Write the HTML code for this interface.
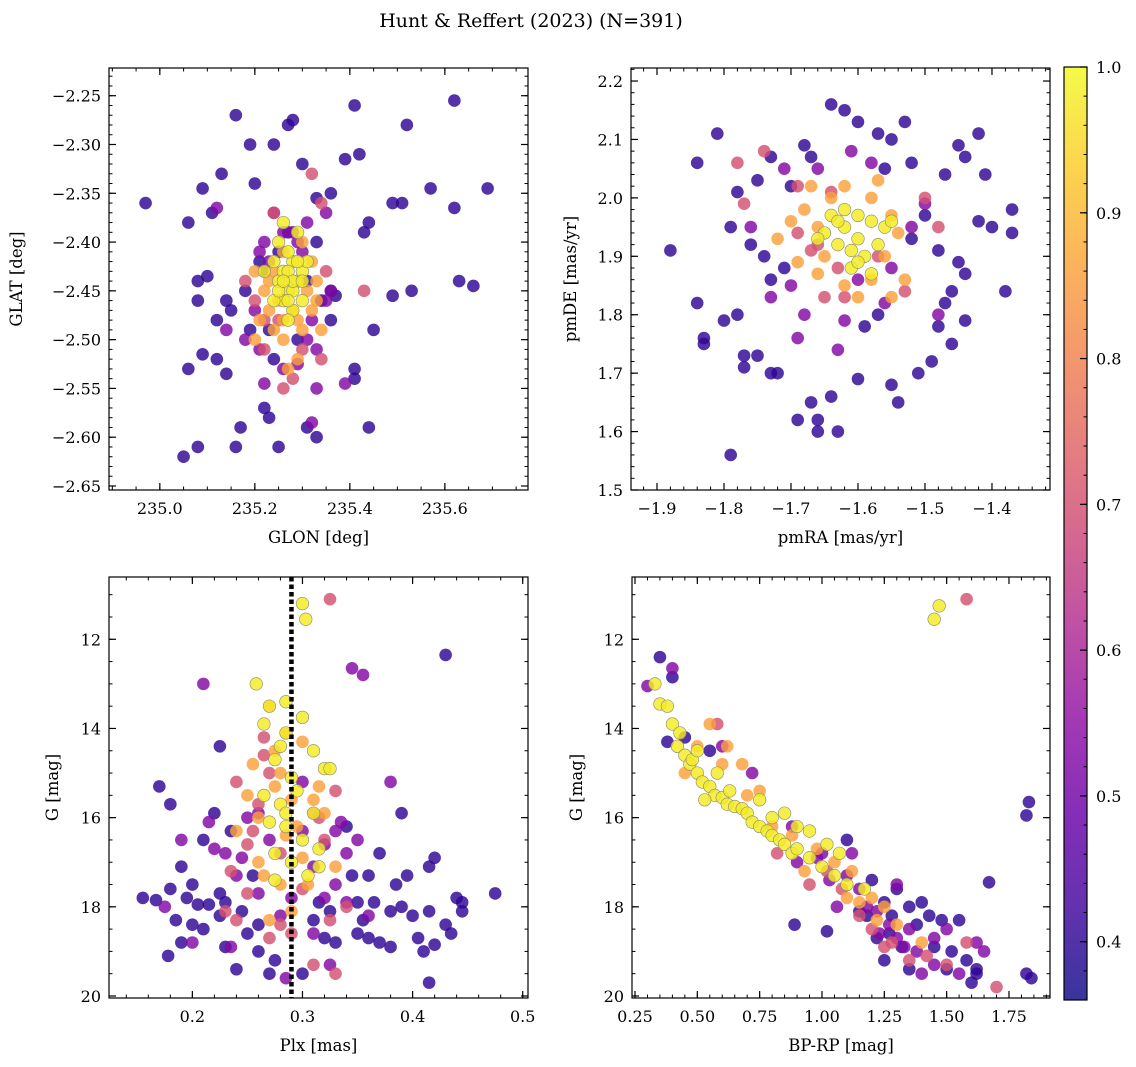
<!DOCTYPE html>
<html><head><meta charset="utf-8"><style>
html,body{margin:0;padding:0;background:#fff;}
svg{display:block;font-family:"DejaVu Serif","Liberation Serif",serif;}
</style></head><body>
<svg id="fig" width="1136" height="1067" viewBox="0 0 1136 1067" xmlns="http://www.w3.org/2000/svg">
<defs><linearGradient id="cbg" x1="0" y1="1" x2="0" y2="0"></linearGradient></defs>
<text x="531" y="27" font-size="19" text-anchor="middle">Hunt &amp; Reffert (2023) (N=391)</text>
</svg>
<script>
// ---------- data ----------
const groupProb = [0.40, 0.53, 0.70, 0.86, 0.98];
// Top-left: GLON, GLAT
const tlDark = [[234.97,-2.36],[235.06,-2.38],[235.05,-2.62],[235.08,-2.61],[235.06,-2.53],[235.08,-2.46],[235.09,-2.345],[235.11,-2.37],[235.13,-2.33],[235.16,-2.27],[235.19,-2.30],[235.20,-2.34],[235.24,-2.30],[235.27,-2.28],[235.28,-2.275],[235.30,-2.32],[235.33,-2.355],[235.36,-2.35],[235.39,-2.315],[235.41,-2.26],[235.42,-2.31],[235.44,-2.38],[235.43,-2.39],[235.49,-2.36],[235.51,-2.36],[235.52,-2.28],[235.57,-2.345],[235.62,-2.255],[235.62,-2.365],[235.69,-2.345],[235.63,-2.44],[235.66,-2.445],[235.53,-2.45],[235.49,-2.455],[235.45,-2.49],[235.44,-2.59],[235.41,-2.53],[235.41,-2.54],[235.37,-2.455],[235.36,-2.45],[235.33,-2.6],[235.31,-2.59],[235.25,-2.61],[235.22,-2.57],[235.23,-2.58],[235.17,-2.59],[235.16,-2.61],[235.12,-2.52],[235.09,-2.515],[235.14,-2.535],[235.10,-2.435],[235.08,-2.44],[235.12,-2.48],[235.14,-2.46],[235.15,-2.47],[235.18,-2.45],[235.19,-2.49],[235.21,-2.42],[235.33,-2.40],[235.36,-2.48],[235.24,-2.52],[235.29,-2.50],[235.22,-2.43],[235.25,-2.41],[235.31,-2.44],[235.34,-2.46],[235.27,-2.39],[235.23,-2.49]];
const tlPurple = [[235.14,-2.49],[235.23,-2.42],[235.21,-2.41],[235.22,-2.40],[235.28,-2.39],[235.31,-2.38],[235.30,-2.41],[235.36,-2.45],[235.33,-2.51],[235.31,-2.50],[235.29,-2.525],[235.26,-2.53],[235.22,-2.545],[235.21,-2.51],[235.18,-2.50],[235.24,-2.37],[235.29,-2.40],[235.35,-2.37],[235.12,-2.365],[235.33,-2.55],[235.39,-2.545],[235.32,-2.585],[235.20,-2.47],[235.35,-2.46],[235.26,-2.39],[235.32,-2.48]];
const tlPink = [[235.24,-2.37],[235.34,-2.36],[235.26,-2.55],[235.22,-2.51],[235.28,-2.54],[235.34,-2.52],[235.20,-2.46],[235.35,-2.43],[235.43,-2.45],[235.22,-2.48],[235.18,-2.44],[235.32,-2.33],[235.30,-2.51],[235.25,-2.48]];
const tlOrange = [[235.2,-2.43],[235.22,-2.45],[235.23,-2.47],[235.24,-2.49],[235.26,-2.5],[235.3,-2.49],[235.32,-2.47],[235.33,-2.44],[235.32,-2.42],[235.3,-2.4],[235.26,-2.41],[235.21,-2.48],[235.29,-2.52],[235.25,-2.46],[235.34,-2.49],[235.27,-2.53],[235.2,-2.5],[235.31,-2.45],[235.23,-2.44],[235.28,-2.47],[235.24,-2.43],[235.29,-2.48],[235.33,-2.46],[235.26,-2.48]];
const tlYellow = [[235.24,-2.42],[235.25,-2.44],[235.26,-2.43],[235.27,-2.45],[235.28,-2.42],[235.29,-2.44],[235.3,-2.43],[235.26,-2.46],[235.28,-2.47],[235.27,-2.41],[235.25,-2.4],[235.29,-2.39],[235.3,-2.46],[235.24,-2.46],[235.27,-2.48],[235.31,-2.42],[235.26,-2.38],[235.22,-2.43],[235.28,-2.45],[235.27,-2.43],[235.25,-2.45],[235.29,-2.42],[235.28,-2.44],[235.26,-2.44],[235.30,-2.44],[235.27,-2.46]];
// Top-right: pmRA, pmDE
const trDark = [[-1.88,1.91],[-1.84,1.82],[-1.83,1.76],[-1.83,1.75],[-1.79,1.56],[-1.81,2.11],[-1.84,2.06],[-1.78,1.8],[-1.77,1.73],[-1.77,1.71],[-1.76,1.92],[-1.75,1.73],[-1.73,1.7],[-1.72,1.7],[-1.69,1.62],[-1.67,1.65],[-1.66,1.6],[-1.66,1.62],[-1.63,1.6],[-1.64,1.66],[-1.60,1.69],[-1.55,1.68],[-1.54,1.65],[-1.57,1.8],[-1.59,1.78],[-1.51,1.7],[-1.49,1.72],[-1.46,1.75],[-1.44,1.79],[-1.48,1.78],[-1.38,1.84],[-1.37,1.98],[-1.37,1.94],[-1.40,1.95],[-1.42,1.96],[-1.41,2.04],[-1.42,2.11],[-1.44,2.07],[-1.45,2.09],[-1.47,2.04],[-1.53,2.13],[-1.55,2.1],[-1.57,2.11],[-1.6,2.13],[-1.62,2.15],[-1.64,2.16],[-1.67,2.07],[-1.70,2.02],[-1.73,2.07],[-1.75,2.03],[-1.78,2.01],[-1.79,1.95],[-1.80,1.79],[-1.73,1.86],[-1.74,1.9],[-1.71,1.88],[-1.47,1.82],[-1.45,1.89],[-1.44,1.87],[-1.46,1.84],[-1.48,1.91],[-1.52,1.93],[-1.52,2.06],[-1.56,2.05],[-1.50,1.97],[-1.68,2.09]];
const trPurple = [[-1.70,1.85],[-1.68,1.8],[-1.63,1.74],[-1.62,1.79],[-1.71,2.05],[-1.66,2.05],[-1.58,2.06],[-1.52,1.95],[-1.50,1.99],[-1.48,1.8],[-1.56,1.82],[-1.73,1.83],[-1.76,1.95],[-1.6,1.86],[-1.55,1.88],[-1.61,2.08],[-1.69,1.76]];
const trPink = [[-1.74,2.08],[-1.78,2.06],[-1.77,1.99],[-1.69,1.94],[-1.67,1.91],[-1.65,1.83],[-1.62,1.83],[-1.57,1.9],[-1.53,1.84],[-1.48,1.95],[-1.50,2.0],[-1.63,1.88],[-1.64,2.01],[-1.69,2.02],[-1.66,1.92]];
const trOrange = [[-1.7,1.96],[-1.68,1.98],[-1.66,1.95],[-1.64,2.0],[-1.62,2.02],[-1.58,2.0],[-1.55,1.97],[-1.54,1.94],[-1.56,1.9],[-1.58,1.86],[-1.62,1.85],[-1.66,1.87],[-1.69,1.89],[-1.72,1.93],[-1.6,1.83],[-1.53,1.86],[-1.67,2.02],[-1.57,2.03],[-1.65,1.9],[-1.55,1.83]];
const trYellow = [[-1.64,1.97],[-1.62,1.95],[-1.6,1.93],[-1.58,1.96],[-1.56,1.95],[-1.61,1.91],[-1.63,1.92],[-1.59,1.9],[-1.62,1.98],[-1.57,1.92],[-1.65,1.94],[-1.6,1.97],[-1.61,1.88],[-1.58,1.87],[-1.55,1.96],[-1.63,1.96],[-1.66,1.93],[-1.6,1.89]];
// Bottom-left: Plx, G
const blDark = [[0.155,17.8],[0.167,17.85],[0.17,15.3],[0.18,15.7],[0.178,19.1],[0.18,17.6],[0.185,18.3],[0.19,18.8],[0.19,17.1],[0.205,17.95],[0.21,18.5],[0.21,16.5],[0.22,15.9],[0.225,14.4],[0.225,17.7],[0.23,18.9],[0.235,16.3],[0.24,19.4],[0.245,18.1],[0.25,18.6],[0.255,17.3],[0.26,19.0],[0.27,19.5],[0.275,19.2],[0.3,19.5],[0.31,18.3],[0.315,17.9],[0.32,18.7],[0.33,18.8],[0.34,16.2],[0.345,17.3],[0.35,18.6],[0.36,18.7],[0.365,17.9],[0.37,18.8],[0.38,18.1],[0.385,17.5],[0.39,18.0],[0.39,15.9],[0.4,18.2],[0.405,18.7],[0.41,19.0],[0.415,18.1],[0.415,17.1],[0.42,16.9],[0.42,18.85],[0.43,18.4],[0.43,12.35],[0.435,18.6],[0.44,17.8],[0.445,18.1],[0.445,17.9],[0.475,17.7],[0.415,19.7],[0.37,16.8],[0.36,17.3],[0.35,17.9],[0.2,18.4],[0.195,17.8],[0.215,17.95],[0.23,17.9],[0.26,18.4],[0.395,17.3],[0.38,18.9],[0.225,18.2],[0.355,18.3],[0.325,18.1],[0.2,17.5]];
const blPurple = [[0.215,16.1],[0.22,16.7],[0.23,16.8],[0.24,17.3],[0.25,16.0],[0.26,15.9],[0.27,16.5],[0.29,17.8],[0.3,16.3],[0.31,17.1],[0.32,16.6],[0.33,17.5],[0.335,16.1],[0.345,12.65],[0.355,12.8],[0.2,18.8],[0.235,18.9],[0.31,18.6],[0.325,19.3],[0.3,15.2],[0.34,17.9],[0.285,19.6],[0.21,13.0],[0.19,16.5],[0.175,18.0],[0.38,15.2],[0.35,16.5],[0.36,18.2],[0.28,18.2],[0.26,17.7],[0.32,17.8],[0.34,16.8],[0.245,16.9],[0.33,16.3]];
const blPink = [[0.325,11.1],[0.24,15.2],[0.25,16.6],[0.265,14.6],[0.27,15.0],[0.26,15.7],[0.28,16.8],[0.3,17.6],[0.315,16.0],[0.32,16.5],[0.33,15.4],[0.325,18.3],[0.25,17.7],[0.27,18.7],[0.28,18.4],[0.29,18.6],[0.31,19.3],[0.265,14.2],[0.31,15.9],[0.23,18.1],[0.24,18.3],[0.33,19.5],[0.34,18.0],[0.255,16.3],[0.235,17.2]];
const blOrange = [[0.27,13.5],[0.275,14.5],[0.28,15.0],[0.285,14.1],[0.29,15.6],[0.31,15.6],[0.315,15.3],[0.32,15.9],[0.3,16.9],[0.26,16.0],[0.265,17.3],[0.28,17.5],[0.24,16.3],[0.25,15.5],[0.29,18.1],[0.305,17.5],[0.27,18.3],[0.3,14.3],[0.255,14.8],[0.285,16.4],[0.33,17.1],[0.295,16.2],[0.26,17.0],[0.275,15.3]];
const blYellow = [[0.3,11.2],[0.303,11.55],[0.258,13.0],[0.27,13.5],[0.285,13.4],[0.265,13.9],[0.3,13.75],[0.285,14.1],[0.31,14.5],[0.275,14.7],[0.29,15.1],[0.32,14.9],[0.325,14.9],[0.265,15.5],[0.28,15.7],[0.31,15.9],[0.285,16.2],[0.3,16.5],[0.275,16.8],[0.29,17.0],[0.305,17.3],[0.315,16.7],[0.27,16.1],[0.295,15.4],[0.28,14.4],[0.315,17.1],[0.275,17.4],[0.285,15.9]];
// Bottom-right: BP-RP, G
const brDark = [[0.35,12.4],[0.4,12.85],[0.38,14.3],[0.45,14.2],[0.55,14.5],[1.83,15.65],[1.82,15.95],[1.67,17.45],[1.82,19.5],[1.84,19.6],[1.6,19.7],[1.02,18.55],[0.89,18.4],[1.25,19.2],[1.35,19.4],[1.5,19.4],[1.62,19.5],[1.3,17.6],[1.43,18.2],[1.48,18.3],[1.55,18.3],[1.62,19.4],[1.4,17.9],[1.2,17.4],[1.1,16.5],[1.18,18.2],[1.28,18.2],[1.32,18.9],[1.27,18.6],[1.38,18.4],[1.45,18.9],[1.52,19.0],[1.58,19.2],[1.15,18.1],[1.22,18.7],[1.35,18.0],[1.25,17.9]];
const brPurple = [[0.3,13.05],[0.4,12.65],[0.6,14.4],[0.72,15.0],[0.88,16.2],[0.98,16.9],[1.03,17.4],[1.1,17.3],[1.15,17.6],[1.18,18.0],[1.22,18.1],[1.27,18.4],[1.3,18.7],[1.33,18.9],[1.38,19.0],[1.45,19.3],[1.5,18.5],[1.45,18.7],[1.23,18.6],[1.35,18.5],[1.55,19.5],[1.65,19.0],[1.4,19.5],[0.9,17.0],[1.06,18.0],[1.0,16.8],[1.12,16.8],[1.3,17.5],[1.62,18.8]];
const brPink = [[1.58,11.1],[0.58,13.9],[1.02,17.2],[1.15,18.2],[1.2,18.5],[1.28,18.8],[1.35,19.2],[1.42,19.1],[1.7,19.8],[1.58,18.8],[1.5,19.3],[0.82,16.8],[0.95,17.5],[1.08,17.6],[1.25,18.9]];
const brOrange = [[0.55,13.9],[0.62,14.4],[0.68,14.8],[0.75,15.4],[0.8,16.2],[0.88,16.4],[0.98,16.7],[1.05,17.0],[1.12,17.2],[1.2,17.8],[1.25,18.0],[1.3,18.4],[0.7,15.5],[0.6,14.8],[0.93,17.2],[1.15,17.9],[1.22,18.3],[1.1,17.8],[0.45,15.0],[0.5,14.4],[1.4,18.8]];
const brYellow = [[0.33,13.0],[0.35,13.45],[0.38,13.5],[0.4,13.9],[0.42,14.4],[0.45,14.6],[0.47,14.8],[0.5,15.0],[0.52,15.2],[0.55,15.3],[0.57,15.5],[0.6,15.55],[0.62,15.7],[0.65,15.75],[0.68,15.8],[0.7,15.9],[0.72,16.1],[0.75,16.2],[0.78,16.3],[0.8,16.4],[0.83,16.5],[0.85,16.6],[0.88,16.8],[0.9,16.7],[0.95,16.9],[1.0,17.1],[1.05,17.3],[1.1,17.5],[1.17,17.6],[0.48,14.7],[0.58,15.0],[0.85,15.9],[0.9,16.2],[0.95,16.3],[1.07,16.8],[0.5,14.5],[0.43,14.1],[1.45,11.55],[1.47,11.25],[0.63,15.4],[0.53,15.6],[0.75,15.6],[0.8,16.0],[1.02,16.6]];
const plxLine = 0.29;
const tlXTicks = [235.0,235.2,235.4,235.6];
const tlYTicks = [-2.25,-2.30,-2.35,-2.40,-2.45,-2.50,-2.55,-2.60,-2.65];
const trXTicks = [-1.9,-1.8,-1.7,-1.6,-1.5,-1.4];
const trYTicks = [1.5,1.6,1.7,1.8,1.9,2.0,2.1,2.2];
const blXTicks = [0.2,0.3,0.4,0.5];
const gTicks = [12,14,16,18,20];
const brXTicks = [0.25,0.50,0.75,1.00,1.25,1.50,1.75];
const cbTicks = [0.4,0.5,0.6,0.7,0.8,0.9,1.0];

// ---------- helpers ----------
const NS = "http://www.w3.org/2000/svg";
const svg = document.getElementById('fig');
function mk(tag, attrs, parent){const e=document.createElementNS(NS,tag);for(const k in attrs)e.setAttribute(k,attrs[k]);(parent||svg).appendChild(e);return e;}
const plasma=[[13,8,135],[65,4,157],[106,0,168],[143,13,164],[177,42,144],[204,71,120],[225,100,98],[242,132,75],[252,166,54],[252,206,37],[240,249,33]];
const VMIN=0.36,VMAX=1.0;
function cmap(v){let t=(v-VMIN)/(VMAX-VMIN);t=Math.max(0,Math.min(1,t));const f=t*10,i=Math.min(9,Math.floor(f)),r=f-i;const a=plasma[i],b=plasma[i+1];return `rgb(${Math.round(a[0]+(b[0]-a[0])*r)},${Math.round(a[1]+(b[1]-a[1])*r)},${Math.round(a[2]+(b[2]-a[2])*r)})`;}
function fmt(v,d){return (v<0?'\u2212':'')+Math.abs(v).toFixed(d);}

function panel(o){
  const L=o.px[0],R=o.px[1],T=o.py[0],B=o.py[1];
  const g=mk('g',{});
  
  
  const sx=v=>L+(v-o.xd[0])/(o.xd[1]-o.xd[0])*(R-L);
  const sy=o.invertY ? (v=>T+(v-o.yd[0])/(o.yd[1]-o.yd[0])*(B-T)) : (v=>B-(v-o.yd[0])/(o.yd[1]-o.yd[0])*(B-T));
  const cp='cp-'+o.name;
  const c=mk('clipPath',{id:cp},g);mk('rect',{x:L,y:T,width:R-L,height:B-T},c);
  const pts=mk('g',{'clip-path':`url(#${cp})`},g);
  
  
  o.groups.forEach((grp,gi)=>{
    const p=groupProb[gi];
    grp.forEach(d=>{
      const e=mk('circle',{cx:sx(d[0]),cy:sy(d[1]),r:6.3,fill:cmap(p),'fill-opacity':0.82,stroke:p>0.9?'#8a8a70':'none','stroke-width':0.6},pts);
      
      
    });
  });
  if(o.vline!==undefined){
    const l=mk('line',{x1:sx(o.vline),x2:sx(o.vline),y1:T,y2:B,stroke:'#000','stroke-width':4.5,'stroke-dasharray':'4.5,3'},g);
    
    
  }
  const fr=mk('rect',{x:L,y:T,width:R-L,height:B-T,fill:'none',stroke:'#000','stroke-width':1.2},g);
  
  
  const mnx=o.xminor, mny=o.yminor;
  for(let k=Math.ceil(o.xd[0]/mnx-1e-6); k*mnx<=o.xd[1]+1e-9; k++){const x=sx(k*mnx);mk('line',{x1:x,x2:x,y1:B,y2:B-3.5,stroke:'#000','stroke-width':1},g);mk('line',{x1:x,x2:x,y1:T,y2:T+3.5,stroke:'#000','stroke-width':1},g);}
  for(let k=Math.ceil(o.yd[0]/mny-1e-6); k*mny<=o.yd[1]+1e-9; k++){const y=sy(k*mny);mk('line',{x1:L,x2:L+3.5,y1:y,y2:y,stroke:'#000','stroke-width':1},g);mk('line',{x1:R,x2:R-3.5,y1:y,y2:y,stroke:'#000','stroke-width':1},g);}
  o.xt.forEach(v=>{const x=sx(v);mk('line',{x1:x,x2:x,y1:B,y2:B-7,stroke:'#000','stroke-width':1.2},g);mk('line',{x1:x,x2:x,y1:T,y2:T+7,stroke:'#000','stroke-width':1.2},g);
    const t=mk('text',{x:x,y:B+24,'font-size':16,'text-anchor':'middle'},g);t.textContent=fmt(v,o.xdec);
    });
  o.yt.forEach(v=>{const y=sy(v);mk('line',{x1:L,x2:L+7,y1:y,y2:y,stroke:'#000','stroke-width':1.2},g);mk('line',{x1:R,x2:R-7,y1:y,y2:y,stroke:'#000','stroke-width':1.2},g);
    const t=mk('text',{x:L-8,y:y+6,'font-size':16,'text-anchor':'end'},g);t.textContent=fmt(v,o.ydec);
    });
  const xl=mk('text',{x:(L+R)/2,y:B+53,'font-size':16.5,'text-anchor':'middle'},g);xl.textContent=o.xlabel;
  
  const yl=mk('text',{x:0,y:0,'font-size':16.5,'text-anchor':'middle',transform:`translate(${o.ylx},${(T+B)/2}) rotate(-90)`},g);yl.textContent=o.ylabel;
  
}

panel({name:'glon-glat-panel',px:[109,528],py:[68,490],xd:[234.893,235.775],yd:[-2.6541,-2.2216],groups:[tlDark,tlPurple,tlPink,tlOrange,tlYellow],xt:tlXTicks,yt:tlYTicks,xminor:0.05,yminor:0.01,xdec:1,ydec:2,xlabel:'GLON [deg]',ylabel:'GLAT [deg]',ylx:22});
panel({name:'pm-panel',px:[631,1050],py:[68,490],xd:[-1.9388,-1.3134],yd:[1.5,2.2223],groups:[trDark,trPurple,trPink,trOrange,trYellow],xt:trXTicks,yt:trYTicks,xminor:0.02,yminor:0.02,xdec:1,ydec:1,xlabel:'pmRA [mas/yr]',ylabel:'pmDE [mas/yr]',ylx:576});
panel({name:'plx-g-panel',px:[109,528],py:[577,998],xd:[0.1243,0.5048],yd:[10.603,20.045],groups:[blDark,blPurple,blPink,blOrange,blYellow],xt:blXTicks,yt:gTicks,xminor:0.02,yminor:0.5,xdec:1,ydec:0,xlabel:'Plx [mas]',ylabel:'G [mag]',ylx:58,vline:plxLine,invertY:true});
panel({name:'cmd-panel',px:[632,1050],py:[577,998],xd:[0.238,1.9145],yd:[10.603,20.045],groups:[brDark,brPurple,brPink,brOrange,brYellow],xt:brXTicks,yt:gTicks,xminor:0.05,yminor:0.5,xdec:2,ydec:0,xlabel:'BP-RP [mag]',ylabel:'G [mag]',ylx:582,invertY:true});

// colorbar
(function(){
  const grad=document.getElementById('cbg');
  for(let i=0;i<=10;i++){const s=document.createElementNS(NS,'stop');s.setAttribute('offset',i/10);s.setAttribute('stop-color',cmap(VMIN+(VMAX-VMIN)*i/10));s.setAttribute('stop-opacity',0.82);grad.appendChild(s);}
  const X=1064,W=23,T=67,B=1000;
  const g=document.createElementNS(NS,'g');svg.appendChild(g);
  
  
  const r=document.createElementNS(NS,'rect');
  [['x',X],['y',T],['width',W],['height',B-T],['fill','url(#cbg)'],['stroke','#000'],['stroke-width',1.2]].forEach(a=>r.setAttribute(a[0],a[1]));g.appendChild(r);
  const sy=v=>B-(v-VMIN)/(VMAX-VMIN)*(B-T);
  for(let k=19;k<=50;k++){const v=k*0.02;const l=document.createElementNS(NS,'line');const y=sy(v);[['x1',X+W],['x2',X+W-3.5],['y1',y],['y2',y],['stroke','#000']].forEach(a=>l.setAttribute(a[0],a[1]));g.appendChild(l);}
  cbTicks.forEach(v=>{const y=sy(v);const l=document.createElementNS(NS,'line');[['x1',X+W],['x2',X+W-7],['y1',y],['y2',y],['stroke','#000'],['stroke-width',1.2]].forEach(a=>l.setAttribute(a[0],a[1]));g.appendChild(l);
    const t=document.createElementNS(NS,'text');[['x',X+W+9],['y',y+6],['font-size',16]].forEach(a=>t.setAttribute(a[0],a[1]));t.textContent=v.toFixed(1);
    
    
    g.appendChild(t);});
})();
</script>
</body></html>
